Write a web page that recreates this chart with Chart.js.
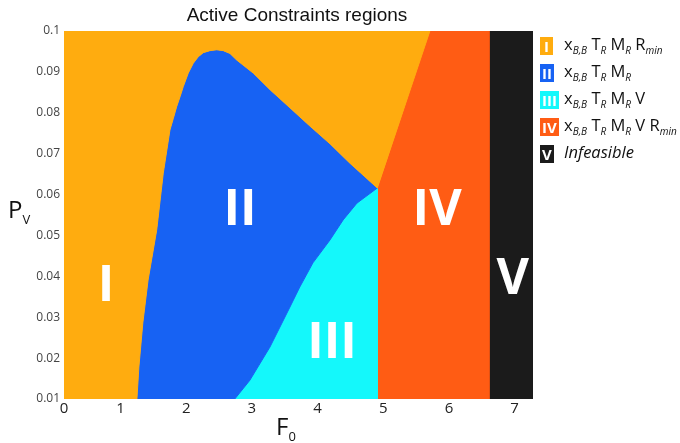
<!DOCTYPE html>
<html>
<head>
<meta charset="utf-8">
<script src="https://cdn.jsdelivr.net/npm/chart.js@4.4.0/dist/chart.umd.min.js"></script>
<style>
  body { margin: 0; background: #fff; }
  #wrap { position: relative; width: 680px; height: 443px; overflow: hidden; }
  #c { position: absolute; left: 0; top: 0; }
  .txt { position: absolute; white-space: nowrap; color: #111; }
  #title { left: 0; width: 594px; top: 4px; text-align: center; font: 19px "Liberation Sans", Arial, sans-serif; color: #111; }
  #ylab { left: 8px; top: 192px; font: 24px "Open Sans", sans-serif; }
  #xlab { left: 276px; top: 409px; font: 24px "Open Sans", sans-serif; }
  .ax sub { font-size: 13px; vertical-align: -6px; }
  #legend { position: absolute; left: 540px; top: 32px; font: 16.5px "Open Sans", sans-serif; color: #111; }
  .row { position: relative; height: 27px; line-height: 24px; white-space: nowrap; }
  .sw { display: inline-block; min-width: 9px; height: 18px; line-height: 18px; padding: 0 2px; color: #fff; font-weight: bold; font-size: 15px; text-align: center; vertical-align: middle; }
  .lt { position: absolute; left: 24px; top: 0; }
  .lt sub { font-size: 10px; font-style: italic; vertical-align: -4px; }
</style>
</head>
<body>
<div id="wrap">
  <canvas id="c" width="680" height="443"></canvas>
  <div id="title" class="txt">Active Constraints regions</div>
  <div id="ylab" class="txt ax">P<sub>V</sub></div>
  <div id="xlab" class="txt ax">F<sub>0</sub></div>
  <div id="legend"></div>
</div>
<script>
(() => {
  // axis ranges
  const F_MIN = 0.14, F_MAX = 7.28;
  const P_MIN = 0.01, P_MAX = 0.1;
  const X_TICKS = [0, 1, 2, 3, 4, 5, 6, 7];

  // region boundaries read from the map, [F0, Pv]
  // I / II (orange / blue), from the bottom up over the hump to the triple point
  const BOUND_I_II = [
    [1.25, 0.01], [1.28, 0.0178], [1.34, 0.0286], [1.42, 0.0391], [1.551, 0.0513],
    [1.651, 0.0652], [1.753, 0.0758], [1.804, 0.0786], [1.855, 0.0815], [1.906, 0.0839],
    [1.956, 0.0864], [2.032, 0.0897], [2.108, 0.0921], [2.184, 0.0937], [2.26, 0.0947],
    [2.362, 0.0952], [2.464, 0.0954], [2.565, 0.0952], [2.667, 0.0945], [2.769, 0.0929],
    [2.895, 0.0913], [3.021, 0.0897], [3.28, 0.0856], [3.58, 0.0812], [3.88, 0.0768],
    [4.19, 0.0724], [4.49, 0.0677], [4.91, 0.0616]
  ];
  // II / III (blue / cyan)
  const BOUND_II_III = [
    [2.74, 0.01], [2.97, 0.0146], [3.275, 0.0227], [3.58, 0.0325], [3.73, 0.0374],
    [3.93, 0.0433], [4.19, 0.0489], [4.39, 0.0538], [4.60, 0.0579], [4.91, 0.0616]
  ];
  // I / IV (orange / red), triple point to top edge
  const BOUND_I_IV = [[4.91, 0.0616], [5.71, 0.1]];
  const F_IV = 4.91;   // left edge of region IV
  const F_V = 6.61;    // left edge of region V (infeasible)

  const REGION_NAMES = ['I', 'II', 'III', 'IV', 'V'];
  const REGION_COLORS = ['#ffac0f', '#1762f3', '#14f8fb', '#ff5c14', '#1b1b1b'];
  const LABEL_AT = [[0.78, 0.0384], [2.82, 0.0569], [4.22, 0.0244], [5.82, 0.0569], [6.97, 0.0401]];

  const toPts = arr => arr.map(p => ({ x: p[0], y: p[1] }));
  const rev = arr => arr.slice().reverse();

  const polys = [
    [[F_MIN, P_MIN], [F_MIN, P_MAX], BOUND_I_IV[1], ...rev(BOUND_I_II)],
    [...BOUND_I_II, ...rev(BOUND_II_III)],
    [...BOUND_II_III, [F_IV, P_MIN]],
    [[F_IV, P_MIN], ...BOUND_I_IV, [F_V, P_MAX], [F_V, P_MIN]],
    [[F_V, P_MIN], [F_V, P_MAX], [F_MAX, P_MAX], [F_MAX, P_MIN]]
  ];

  const datasets = polys.map((poly, i) => ({
    label: REGION_NAMES[i],
    data: toPts(poly),
    showLine: true,
    fill: 'shape',
    backgroundColor: REGION_COLORS[i],
    borderColor: REGION_COLORS[i],
    borderWidth: 1,
    pointRadius: 0,
    tension: 0
  }));

  const RegionLabels = {
    id: 'regionLabels',
    afterDatasetsDraw(chart) {
      const { ctx, scales } = chart;
      ctx.save();
      ctx.font = 'bold 50px "Open Sans", sans-serif';
      ctx.fillStyle = '#fff';
      ctx.textAlign = 'center';
      ctx.textBaseline = 'alphabetic';
      LABEL_AT.forEach((p, i) => {
        const x = scales.x.getPixelForValue(p[0]);
        const y = scales.y.getPixelForValue(p[1]);
        ctx.fillText(REGION_NAMES[i], x, y + 18);
      });
      ctx.restore();
    }
  };

  new Chart(document.getElementById('c'), {
    type: 'scatter',
    data: { datasets },
    options: {
      responsive: false,
      animation: false,
      layout: { padding: { left: 0, right: 147, top: 31, bottom: 0 } },
      plugins: { legend: { display: false }, tooltip: { enabled: false } },
      scales: {
        x: {
          type: 'linear', min: F_MIN, max: F_MAX,
          border: { display: false },
          grid: { display: false, drawTicks: false },
          afterFit: s => { s.height = 44; },
          afterBuildTicks: s => {
            s.ticks = X_TICKS.map(v => ({ value: Math.max(v, F_MIN) }));
          },
          ticks: {
            padding: 1,
            color: '#222',
            font: { family: '"Open Sans", sans-serif', size: 15 },
            callback: (v, i) => String(X_TICKS[i])
          }
        },
        y: {
          type: 'linear', min: P_MIN, max: P_MAX,
          border: { display: false },
          grid: { display: false, drawTicks: false },
          afterFit: s => { s.width = 64; },
          ticks: {
            stepSize: 0.01,
            padding: 4,
            color: '#444',
            font: { family: '"Open Sans", sans-serif', size: 12 },
            callback: v => String(Number(v.toFixed(2)))
          }
        }
      }
    },
    plugins: [RegionLabels]
  });

  // legend with subscripts
  const LEGEND_TEXT = [
    'x<sub>B,B</sub> T<sub>R</sub> M<sub>R</sub> R<sub>min</sub>',
    'x<sub>B,B</sub> T<sub>R</sub> M<sub>R</sub>',
    'x<sub>B,B</sub> T<sub>R</sub> M<sub>R</sub> V',
    'x<sub>B,B</sub> T<sub>R</sub> M<sub>R</sub> V R<sub>min</sub>',
    '<i>Infeasible</i>'
  ];
  const legend = document.getElementById('legend');
  LEGEND_TEXT.forEach((t, i) => {
    const row = document.createElement('div');
    row.className = 'row';
    row.innerHTML = `<span class="sw" style="background:${REGION_COLORS[i]}">${REGION_NAMES[i]}</span><span class="lt">${t}</span>`;
    legend.appendChild(row);
  });
})();
</script>
</body>
</html>
